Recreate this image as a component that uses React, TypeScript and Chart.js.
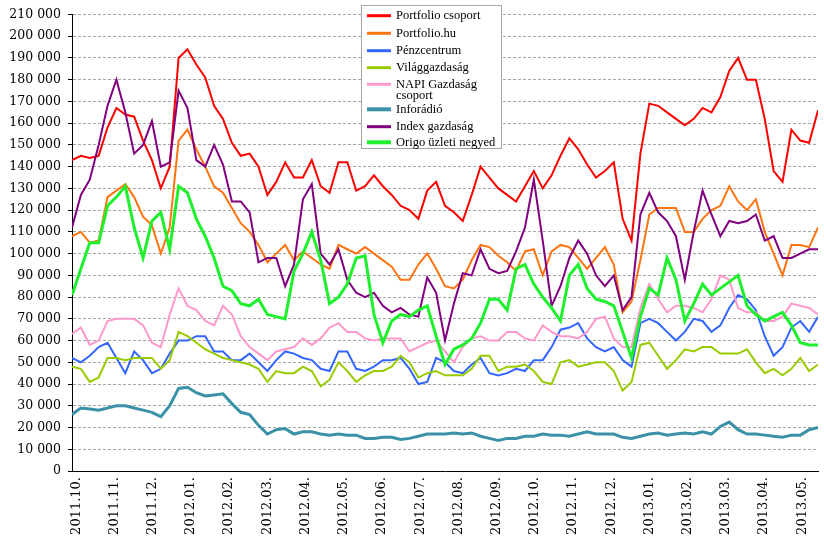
import React, { useEffect, useRef } from "react";
import { Chart, registerables } from "chart.js";

Chart.register(...registerables);

// Tick labels of the time axis (one label every 30 days in the source chart)
const monthLabels = [
  "2011.10.", "2011.11.", "2011.12.", "2012.01.", "2012.02.", "2012.03.", "2012.04.",
  "2012.05.", "2012.06.", "2012.07.", "2012.08.", "2012.09.", "2012.10.", "2012.11.",
  "2012.12.", "2013.01.", "2013.02.", "2013.03.", "2013.04.", "2013.05.",
];

// Weekly readings (visitors), starting a few days before 2011.10.
const portfolioCsoport = [
  143000, 145000, 144000, 145000, 158000, 167000, 164000, 163000, 152000, 143000,
  130000, 140000, 190000, 194000, 187000, 181000, 168000, 162000, 151000, 145000,
  146000, 140000, 127000, 133000, 142000, 135000, 135000, 143000, 131000, 128000,
  142000, 142000, 129000, 131000, 136000, 131000, 127000, 122000, 120000, 116000,
  129000, 133000, 122000, 119000, 115000, 127000, 140000, 135000, 130000, 127000,
  124000, 131000, 138000, 130000, 136000, 145000, 153000, 148000, 141000, 135000,
  138000, 142000, 116000, 106000, 146000, 169000, 168000, 165000, 162000, 159000,
  162000, 167000, 165000, 172000, 184000, 190000, 180000, 180000, 162000, 138000,
  133000, 157000, 152000, 151000, 166000,
];
const portfolioHu = [
  108000, 110000, 105000, 106000, 126000, 129000, 132000, 126000, 117000, 113000,
  100000, 112000, 152000, 157000, 148000, 140000, 131000, 128000, 121000, 114000,
  110000, 104000, 96000, 100000, 104000, 97000, 101000, 98000, 95000, 93000,
  104000, 102000, 100000, 103000, 100000, 97000, 94000, 88000, 88000, 95000,
  100000, 93000, 85000, 84000, 88000, 97000, 104000, 103000, 99000, 96000,
  92000, 101000, 102000, 90000, 101000, 104000, 103000, 98000, 93000, 98000,
  103000, 95000, 73000, 78000, 97000, 118000, 121000, 121000, 121000, 110000,
  110000, 116000, 120000, 122000, 131000, 124000, 120000, 125000, 110000, 100000,
  90000, 104000, 104000, 103000, 112000,
];
const penzcentrum = [
  52000, 50000, 53000, 57000, 59000, 52000, 45000, 55000, 51000, 45000,
  47000, 54000, 60000, 60000, 62000, 62000, 55000, 55000, 51000, 51000,
  54000, 50000, 46000, 51000, 55000, 54000, 52000, 51000, 47000, 46000,
  55000, 55000, 47000, 46000, 48000, 51000, 51000, 52000, 47000, 40000,
  41000, 52000, 50000, 46000, 45000, 49000, 52000, 45000, 44000, 45000,
  47000, 46000, 51000, 51000, 57000, 65000, 66000, 68000, 61000, 57000,
  55000, 57000, 51000, 48000, 68000, 70000, 68000, 64000, 60000, 64000,
  70000, 69000, 64000, 67000, 75000, 81000, 79000, 74000, 62000, 53000,
  57000, 66000, 69000, 64000, 71000,
];
const vilaggazdasag = [
  48000, 47000, 41000, 43000, 52000, 52000, 51000, 52000, 52000, 52000,
  47000, 51000, 64000, 62000, 59000, 56000, 54000, 52000, 51000, 50000,
  49000, 47000, 41000, 46000, 45000, 45000, 48000, 46000, 39000, 42000,
  50000, 46000, 41000, 44000, 46000, 46000, 48000, 53000, 50000, 43000,
  45000, 46000, 44000, 44000, 44000, 47000, 53000, 53000, 46000, 48000,
  48000, 49000, 46000, 41000, 40000, 50000, 51000, 48000, 49000, 50000,
  50000, 46000, 37000, 41000, 58000, 59000, 53000, 47000, 51000, 56000,
  55000, 57000, 57000, 54000, 54000, 54000, 56000, 50000, 45000, 47000,
  44000, 47000, 52000, 46000, 49000,
];
const napiGazdasag = [
  63000, 66000, 58000, 60000, 69000, 70000, 70000, 70000, 67000, 59000,
  57000, 72000, 84000, 76000, 74000, 69000, 67000, 76000, 72000, 62000,
  57000, 54000, 51000, 55000, 56000, 57000, 61000, 58000, 61000, 66000,
  68000, 64000, 64000, 61000, 60000, 61000, 61000, 61000, 55000, 57000,
  59000, 60000, 55000, 50000, 57000, 61000, 62000, 60000, 60000, 64000,
  64000, 61000, 60000, 67000, 64000, 62000, 62000, 61000, 64000, 70000,
  71000, 61000, 57000, 57000, 75000, 86000, 79000, 73000, 76000, 76000,
  75000, 73000, 79000, 90000, 88000, 75000, 73000, 73000, 69000, 69000,
  71000, 77000, 76000, 75000, 72000,
];
const inforadio = [
  26000, 29000, 28500, 28000, 29000, 30000, 30000, 29000, 28000, 27000,
  25000, 30000, 38000, 38500, 36000, 34500, 35000, 35500, 31000, 27000,
  26000, 21000, 17000, 19000, 19500, 17000, 18000, 18000, 17000, 16500,
  17000, 16500, 16500, 15000, 15000, 15500, 15500, 14500, 15000, 16000,
  17000, 17000, 17000, 17500, 17000, 17500, 16000, 15000, 14000, 15000,
  15000, 16000, 16000, 17000, 16500, 16500, 16000, 17000, 18000, 17000,
  17000, 17000, 15500, 15000, 16000, 17000, 17500, 16500, 17000, 17500,
  17000, 18000, 17000, 20500, 22500, 19000, 17000, 17000, 16500, 16000,
  15500, 16500, 16500, 19000, 20000,
];
const indexGazdasag = [
  112000, 127000, 134000, 150000, 168000, 180000, 165000, 146000, 150000, 161000,
  140000, 142000, 175000, 167000, 143000, 140000, 150000, 141000, 124000, 124000,
  119000, 96000, 98000, 98000, 85000, 95000, 125000, 132000, 100000, 95000,
  102000, 88000, 82000, 80000, 82000, 76000, 73000, 75000, 72000, 71000,
  89000, 82000, 60000, 77000, 91000, 90000, 102000, 93000, 91000, 92000,
  101000, 112000, 134000, 106000, 76000, 85000, 98000, 106000, 100000, 90000,
  85000, 90000, 74000, 80000, 118000, 128000, 119000, 115000, 108000, 88000,
  110000, 129000, 118000, 108000, 115000, 114000, 115000, 118000, 106000, 108000,
  98000, 98000, 100000, 102000, 102000,
];
const origoUzleti = [
  81000, 93000, 105000, 105000, 122000, 126000, 131000, 112000, 98000, 115000,
  119000, 102000, 131000, 128000, 116000, 108000, 98000, 85000, 83000, 77000,
  76000, 79000, 72000, 71000, 70000, 92000, 100000, 110000, 97000, 77000,
  80000, 86000, 98000, 99000, 72000, 59000, 69000, 72000, 71000, 74000,
  76000, 62000, 49000, 56000, 58000, 61000, 68000, 79000, 79000, 74000,
  93000, 95000, 86000, 80000, 75000, 69000, 90000, 95000, 84000, 79000,
  78000, 76000, 64000, 52000, 71000, 84000, 81000, 98000, 88000, 69000,
  77000, 86000, 81000, 84000, 87000, 90000, 76000, 72000, 69000, 71000,
  73000, 67000, 59000, 58000, 58000,
];

const seriesNames = [
  "Portfolio csoport", "Portfolio.hu", "Pénzcentrum", "Világgazdaság",
  "NAPI Gazdaság csoport", "Inforádió", "Index gazdaság", "Origo üzleti negyed",
];
const seriesValues = [
  portfolioCsoport, portfolioHu, penzcentrum, vilaggazdasag,
  napiGazdasag, inforadio, indexGazdasag, origoUzleti,
];
const seriesColors = [
  "#ff0000", "#ff7410", "#3366ff", "#99cc00", "#ff99cc", "#3b91a8", "#800080", "#1ef02e",
];
const seriesWidths = [2, 2, 2, 2, 2, 3, 2, 3];
const legendLines = [
  ["Portfolio csoport"], ["Portfolio.hu"], ["Pénzcentrum"], ["Világgazdaság"],
  ["NAPI Gazdaság", "csoport"], ["Inforádió"], ["Index gazdaság"], ["Origo üzleti negyed"],
];

// position (in samples) of the first month label and label spacing (in samples)
const FIRST_LABEL_POS = 0.47;
const LABEL_STEP = 4.303;

const fmt = (v: number) => String(Math.round(v)).replace(/\B(?=(\d{3})+(?!\d))/g, " ");

const boxLegend = {
  id: "boxLegend",
  afterDraw(chart: any) {
    const c = chart.ctx as CanvasRenderingContext2D;
    c.save();
    c.fillStyle = "#ffffff";
    c.fillRect(362, 6, 139, 143);
    c.strokeStyle = "#a6a6a6";
    c.lineWidth = 1;
    c.strokeRect(361.5, 5.5, 140, 143);
    const rows = [15.7, 33.3, 50.7, 67.7, 84.3, 109.3, 126.7, 142.3];
    c.font = "12.5px 'Liberation Serif'";
    c.textBaseline = "middle";
    c.textAlign = "left";
    legendLines.forEach((lines, i) => {
      const y = rows[i];
      c.strokeStyle = seriesColors[i];
      c.lineWidth = seriesWidths[i] + 1;
      c.beginPath();
      c.moveTo(367, y);
      c.lineTo(391, y);
      c.stroke();
      c.fillStyle = "#000000";
      lines.forEach((t, j) => c.fillText(t, 396, y + j * 11.4));
    });
    c.restore();
  },
};

export default function App() {
  const ref = useRef<HTMLCanvasElement>(null);

  useEffect(() => {
    const canvas = ref.current;
    if (!canvas) return;
    const datasets = seriesValues.map((vals, idx) => ({
      label: seriesNames[idx],
      data: vals.map((v, i) => ({ x: i, y: v })),
      borderColor: seriesColors[idx],
      backgroundColor: seriesColors[idx],
      borderWidth: seriesWidths[idx],
      pointRadius: 0,
      pointHoverRadius: 0,
      tension: 0,
      fill: false,
      order: seriesValues.length - idx,
    }));
    const chart = new Chart(canvas, {
      type: "line",
      data: { datasets },
      plugins: [boxLegend],
      options: {
        responsive: false,
        maintainAspectRatio: false,
        animation: false,
        devicePixelRatio: 1,
        events: [],
        layout: { padding: { left: 0, top: 14, right: 5, bottom: 0 } },
        plugins: { legend: { display: false }, tooltip: { enabled: false } },
        scales: {
          x: {
            type: "linear",
            min: 0,
            max: portfolioCsoport.length - 1,
            afterBuildTicks: (scale: any) => {
              scale.ticks = monthLabels.map((_, k) => ({ value: FIRST_LABEL_POS + k * LABEL_STEP }));
            },
            afterFit: (scale: any) => {
              scale.height = 71;
            },
            ticks: {
              autoSkip: false,
              minRotation: 90,
              maxRotation: 90,
              padding: 6,
              color: "#000",
              font: { family: "'DejaVu Serif'", size: 13 },
              callback: (_v: any, i: number) => monthLabels[i],
            },
            grid: { display: true, drawOnChartArea: false, drawTicks: false },
            border: { display: true, color: "#000", width: 1 },
          },
          y: {
            min: 0,
            max: 210000,
            afterFit: (scale: any) => {
              scale.width = 72;
            },
            ticks: {
              stepSize: 10000,
              padding: 7,
              color: "#000",
              font: { family: "'DejaVu Serif'", size: 12.5 },
              callback: (v: any) => fmt(Number(v)),
            },
            grid: {
              color: (ctx: any) => (ctx.tick && ctx.tick.value === 0 ? "rgba(0,0,0,0)" : "#a6a6a6"),
              lineWidth: 1,
              tickColor: "#000",
              tickLength: 4,
              tickBorderDash: [],
            },
            border: { display: true, color: "#000", width: 1, dash: [3, 2] },
          },
        },
      } as any,
    });
    return () => chart.destroy();
  }, []);

  return (
    <div style={{ position: "fixed", left: 0, top: 0, width: 824, height: 542, background: "#fff" }}>
      <canvas ref={ref} width={824} height={542} style={{ display: "block" }} />
    </div>
  );
}
